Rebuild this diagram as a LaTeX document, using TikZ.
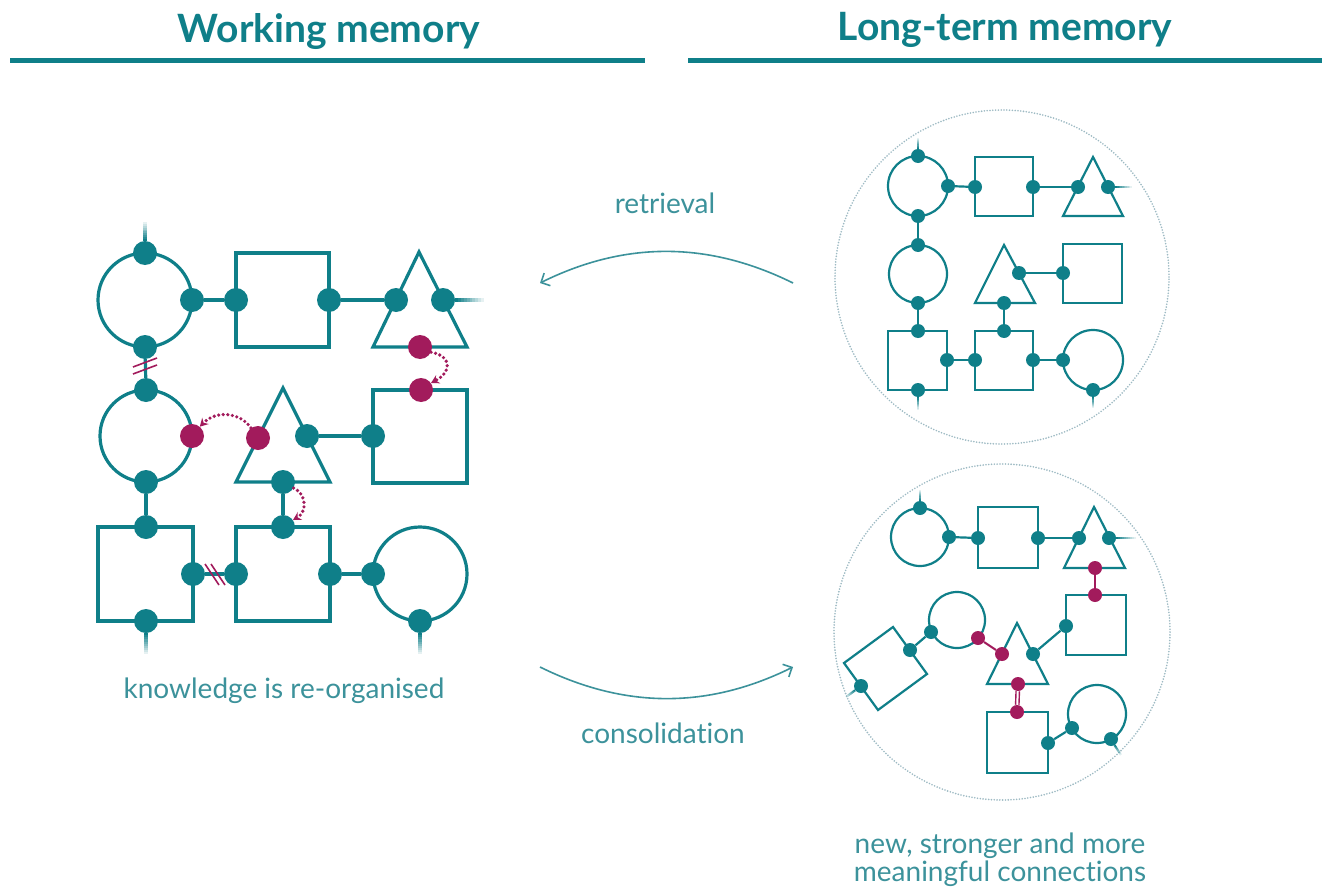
\documentclass[tikz,border=0pt]{standalone}
\usepackage{fontspec}
\setmainfont{Lato}[Ligatures=NoCommon]
\usetikzlibrary{arrows.meta,calc}
\definecolor{tl}{HTML}{0F7F89}
\definecolor{mg}{HTML}{A21B5C}
\definecolor{lbl}{HTML}{3C929B}
\definecolor{ringc}{HTML}{9DBAC3}
\tikzset{
 shp/.style={draw=tl, line width=3.2pt},
 shps/.style={draw=tl, line width=2.2pt},
 dotL/.style={circle, fill=tl, inner sep=0pt, minimum size=24pt},
 dotS/.style={circle, fill=tl, inner sep=0pt, minimum size=14pt},
 mdotL/.style={dotL, fill=mg},
 mdotS/.style={dotS, fill=mg},
 linkL/.style={draw=tl, line width=3.2pt},
 linkS/.style={draw=tl, line width=2.2pt},
 mlink/.style={draw=mg, line width=2pt},
 mdouble/.style={draw=mg, double=white, double distance=2pt, line width=1.4pt},
 slashmark/.style={draw=mg, line width=1.6pt},
 move/.style={draw=mg, line width=3.6pt, line cap=round, dash pattern=on 0pt off 4.6pt, -{Stealth[length=8pt,width=9pt]}},
 flow/.style={draw=lbl, line width=1.6pt, -{Straight Barb[length=7pt,width=14pt]}},
 ringstyle/.style={draw=ringc, line width=1.8pt, dash pattern=on 0pt off 2.8pt, line cap=round},
 hdr/.style={font=\bfseries\fontsize{39}{44}\selectfont, text=tl, anchor=base, inner sep=0pt},
 lab/.style={font=\fontsize{28}{32}\selectfont, text=lbl, anchor=base, inner sep=0pt},
}
\newcommand\fadestub[3]{%
 \foreach \i in {0,...,9}{%
   \pgfmathsetmacro\ta{\i/10}\pgfmathsetmacro\tb{(\i+1)/10}\pgfmathsetmacro\op{1-\i/10}%
   \draw[tl, line width=#3, opacity=\op] ($(#1)!\ta!(#2)$) -- ($(#1)!\tb!(#2)$);
 }}
\begin{document}
\begin{tikzpicture}[x=1pt,y=-1pt]
\useasboundingbox (0,0) rectangle (1322,888);
\fill[white] (0,0) rectangle (1322,888);

% headers
\node[hdr] (hw) at (329,43) {Working memory};
\node[hdr] (hl) at (1005,41) {Long-term memory};
\draw[tl, line width=5pt] (10,61) -- (645,61);
\draw[tl, line width=5pt] (688,61) -- (1322,61);

% ---------- left: working memory shapes
\draw[shp] (145,300) circle[radius=47pt];
\draw[shp] (236,253) rectangle (329,347);
\draw[shp] (419,252) -- (373,347) -- (467,347) -- cycle;
\draw[shp] (146,436) circle[radius=46pt];
\draw[shp] (283,388) -- (236,482) -- (330,482) -- cycle;
\draw[shp] (373,390) rectangle (467,483);
\draw[shp] (98,527) rectangle (193,621);
\draw[shp] (236,527) rectangle (330,621);
\draw[shp] (420,574) circle[radius=47pt];

\node[dotL] (w1) at (145,253) {};
\node[dotL] (w2) at (192,300) {};
\node[dotL] (w3) at (145,347) {};
\node[dotL] (w4) at (236,300) {};
\node[dotL] (w5) at (329,300) {};
\node[dotL] (w6) at (396,300) {};
\node[dotL] (w7) at (443,300) {};
\node[mdotL] (m1) at (420,347) {};
\node[dotL] (w8) at (146,390) {};
\node[dotL] (w9) at (146,482) {};
\node[mdotL] (m2) at (192,436) {};
\node[mdotL] (m3) at (258,438) {};
\node[dotL] (w10) at (307,436) {};
\node[dotL] (w11) at (283,482) {};
\node[mdotL] (m4) at (421,390) {};
\node[dotL] (w12) at (373,436) {};
\node[dotL] (w13) at (146,527) {};
\node[dotL] (w14) at (193,574) {};
\node[dotL] (w15) at (146,621) {};
\node[dotL] (w16) at (283,527) {};
\node[dotL] (w17) at (236,574) {};
\node[dotL] (w18) at (330,574) {};
\node[dotL] (w19) at (373,574) {};
\node[dotL] (w20) at (420,621) {};

\draw[linkL] (w2) -- (w4);
\draw[linkL] (w5) -- (w6);
\draw[linkL] (w3) -- (w8);
\draw[linkL] (w9) -- (w13);
\draw[linkL] (w10) -- (w12);
\draw[linkL] (w11) -- (w16);
\draw[linkL] (w14) -- (w17);
\draw[linkL] (w18) -- (w19);
\coordinate (sw1) at (145,222);
\coordinate (sw7) at (484,300);
\coordinate (sw15) at (146,654);
\coordinate (sw20) at (420,654);
\fadestub{w1.north}{sw1}{3.2pt}
\fadestub{w7.east}{sw7}{3.2pt}
\fadestub{w15.south}{sw15}{3.2pt}
\fadestub{w20.south}{sw20}{3.2pt}

% broken links
\draw[slashmark] (133,367) -- (157,358);
\draw[slashmark] (133,374) -- (157,365);
\draw[slashmark] (205,564) -- (219,585);
\draw[slashmark] (211,564) -- (225,585);

% moves
\draw[move] (m1.-25) .. controls (452,356) and (452,372) .. (m4.35);
\draw[move] (m3.125) .. controls (240,412) and (216,410) .. (m2.50);
\draw[move] (w11.-30) .. controls (307,494) and (307,512) .. (w16.35);

\node[lab] (kn) at (284,698) {knowledge is re-organised};

% ---------- middle arrows
\coordinate (ra) at (793,283);
\coordinate (rb) at (540,283);
\draw[flow] (ra) .. controls (708,241) and (625,241) .. (rb);
\node[lab] (rt) at (665,213) {retrieval};
\coordinate (ca) at (540,667);
\coordinate (cb) at (793,667);
\draw[flow] (ca) .. controls (625,709) and (708,709) .. (cb);
\node[lab] (co) at (663,743) {consolidation};

% ---------- right top
\draw[ringstyle] (1002,277) circle[radius=167pt];
\draw[shps] (918,186) circle[radius=30pt];
\draw[shps] (975,157) rectangle (1033,216);
\draw[shps] (1093,157) -- (1063,216) -- (1123,216) -- cycle;
\draw[shps] (918,274) circle[radius=29pt];
\draw[shps] (1004,245) -- (975,303) -- (1035,303) -- cycle;
\draw[shps] (1063,244) rectangle (1122,303);
\draw[shps] (888,331) rectangle (947,390);
\draw[shps] (975,331) rectangle (1033,390);
\draw[shps] (1093,360) circle[radius=30pt];

\node[dotS] (r1) at (918,156) {};
\node[dotS] (r2) at (948,186) {};
\node[dotS] (r3) at (918,216) {};
\node[dotS] (r4) at (975,187) {};
\node[dotS] (r5) at (1033,187) {};
\node[dotS] (r6) at (1078,187) {};
\node[dotS] (r7) at (1108,187) {};
\node[dotS] (r8) at (918,245) {};
\node[dotS] (r9) at (918,303) {};
\node[dotS] (r10) at (1019,273) {};
\node[dotS] (r11) at (1004,303) {};
\node[dotS] (r12) at (1063,273) {};
\node[dotS] (r13) at (918,331) {};
\node[dotS] (r14) at (947,360) {};
\node[dotS] (r15) at (918,390) {};
\node[dotS] (r16) at (1004,331) {};
\node[dotS] (r17) at (975,360) {};
\node[dotS] (r18) at (1033,360) {};
\node[dotS] (r19) at (1063,360) {};
\node[dotS] (r20) at (1093,390) {};

\draw[linkS] (r2) -- (r4);
\draw[linkS] (r5) -- (r6);
\draw[linkS] (r3) -- (r8);
\draw[linkS] (r9) -- (r13);
\draw[linkS] (r10) -- (r12);
\draw[linkS] (r11) -- (r16);
\draw[linkS] (r14) -- (r17);
\draw[linkS] (r18) -- (r19);
\coordinate (sr1) at (918,138);
\coordinate (sr7) at (1132,187);
\coordinate (sr15) at (918,410);
\coordinate (sr20) at (1093,408);
\fadestub{r1.north}{sr1}{2.2pt}
\fadestub{r7.east}{sr7}{2.2pt}
\fadestub{r15.south}{sr15}{2.2pt}
\fadestub{r20.south}{sr20}{2.2pt}

% ---------- right bottom
\draw[ringstyle] (1002,632) circle[radius=168pt];
\draw[shps] (920,537) circle[radius=29pt];
\draw[shps] (978,507) rectangle (1038,568);
\draw[shps] (1094,507) -- (1064,568) -- (1125,568) -- cycle;
\draw[shps] (1066,595) rectangle (1126,655);
\draw[shps] (1017,623) -- (987,684) -- (1048,684) -- cycle;
\draw[shps] (987,712) rectangle (1048,773);
\draw[shps] (1097,714) circle[radius=29pt];
\draw[shps] (957,620) circle[radius=28pt];
\draw[shps] (844,663) -- (893,627) -- (927,674) -- (878,710) -- cycle;

\node[dotS] (b1) at (920,508) {};
\node[dotS] (b2) at (949,537) {};
\node[dotS] (b3) at (978,538) {};
\node[dotS] (b4) at (1038,538) {};
\node[dotS] (b5) at (1079,538) {};
\node[dotS] (b6) at (1109,538) {};
\node[mdotS] (bm1) at (1095,568) {};
\node[mdotS] (bm2) at (1095,595) {};
\node[dotS] (b7) at (1066,626) {};
\node[mdotS] (bm3) at (1002,654) {};
\node[dotS] (b8) at (1033,654) {};
\node[mdotS] (bm4) at (1018,684) {};
\node[mdotS] (bm5) at (1017,712) {};
\node[dotS] (b9) at (1048,743) {};
\node[dotS] (b10) at (1072,728) {};
\node[dotS] (b11) at (1111,739) {};
\node[dotS] (b12) at (931,632) {};
\node[mdotS] (bm6) at (978,638) {};
\node[dotS] (b13) at (910,650) {};
\node[dotS] (b14) at (861,686) {};

\draw[linkS] (b2) -- (b3);
\draw[linkS] (b4) -- (b5);
\draw[mlink] (bm1) -- (bm2);
\draw[linkS] (b7) -- (b8);
\draw[mlink] (bm3) -- (bm6);
\draw[mdouble] (bm4) -- (bm5);
\draw[linkS] (b9) -- (b10);
\draw[linkS] (b12) -- (b13);
\coordinate (sb1) at (920,490);
\coordinate (sb6) at (1136,538);
\coordinate (sb11) at (1121,755);
\coordinate (sb14) at (846,697);
\fadestub{b1.north}{sb1}{2.2pt}
\fadestub{b6.east}{sb6}{2.2pt}
\fadestub{b11.-60}{sb11}{2.2pt}
\fadestub{b14.216}{sb14}{2.2pt}

\node[lab] (n1) at (1000,853) {new, stronger and more};
\node[lab] (n2) at (1000,881) {meaningful connections};
\end{tikzpicture}
\end{document}
